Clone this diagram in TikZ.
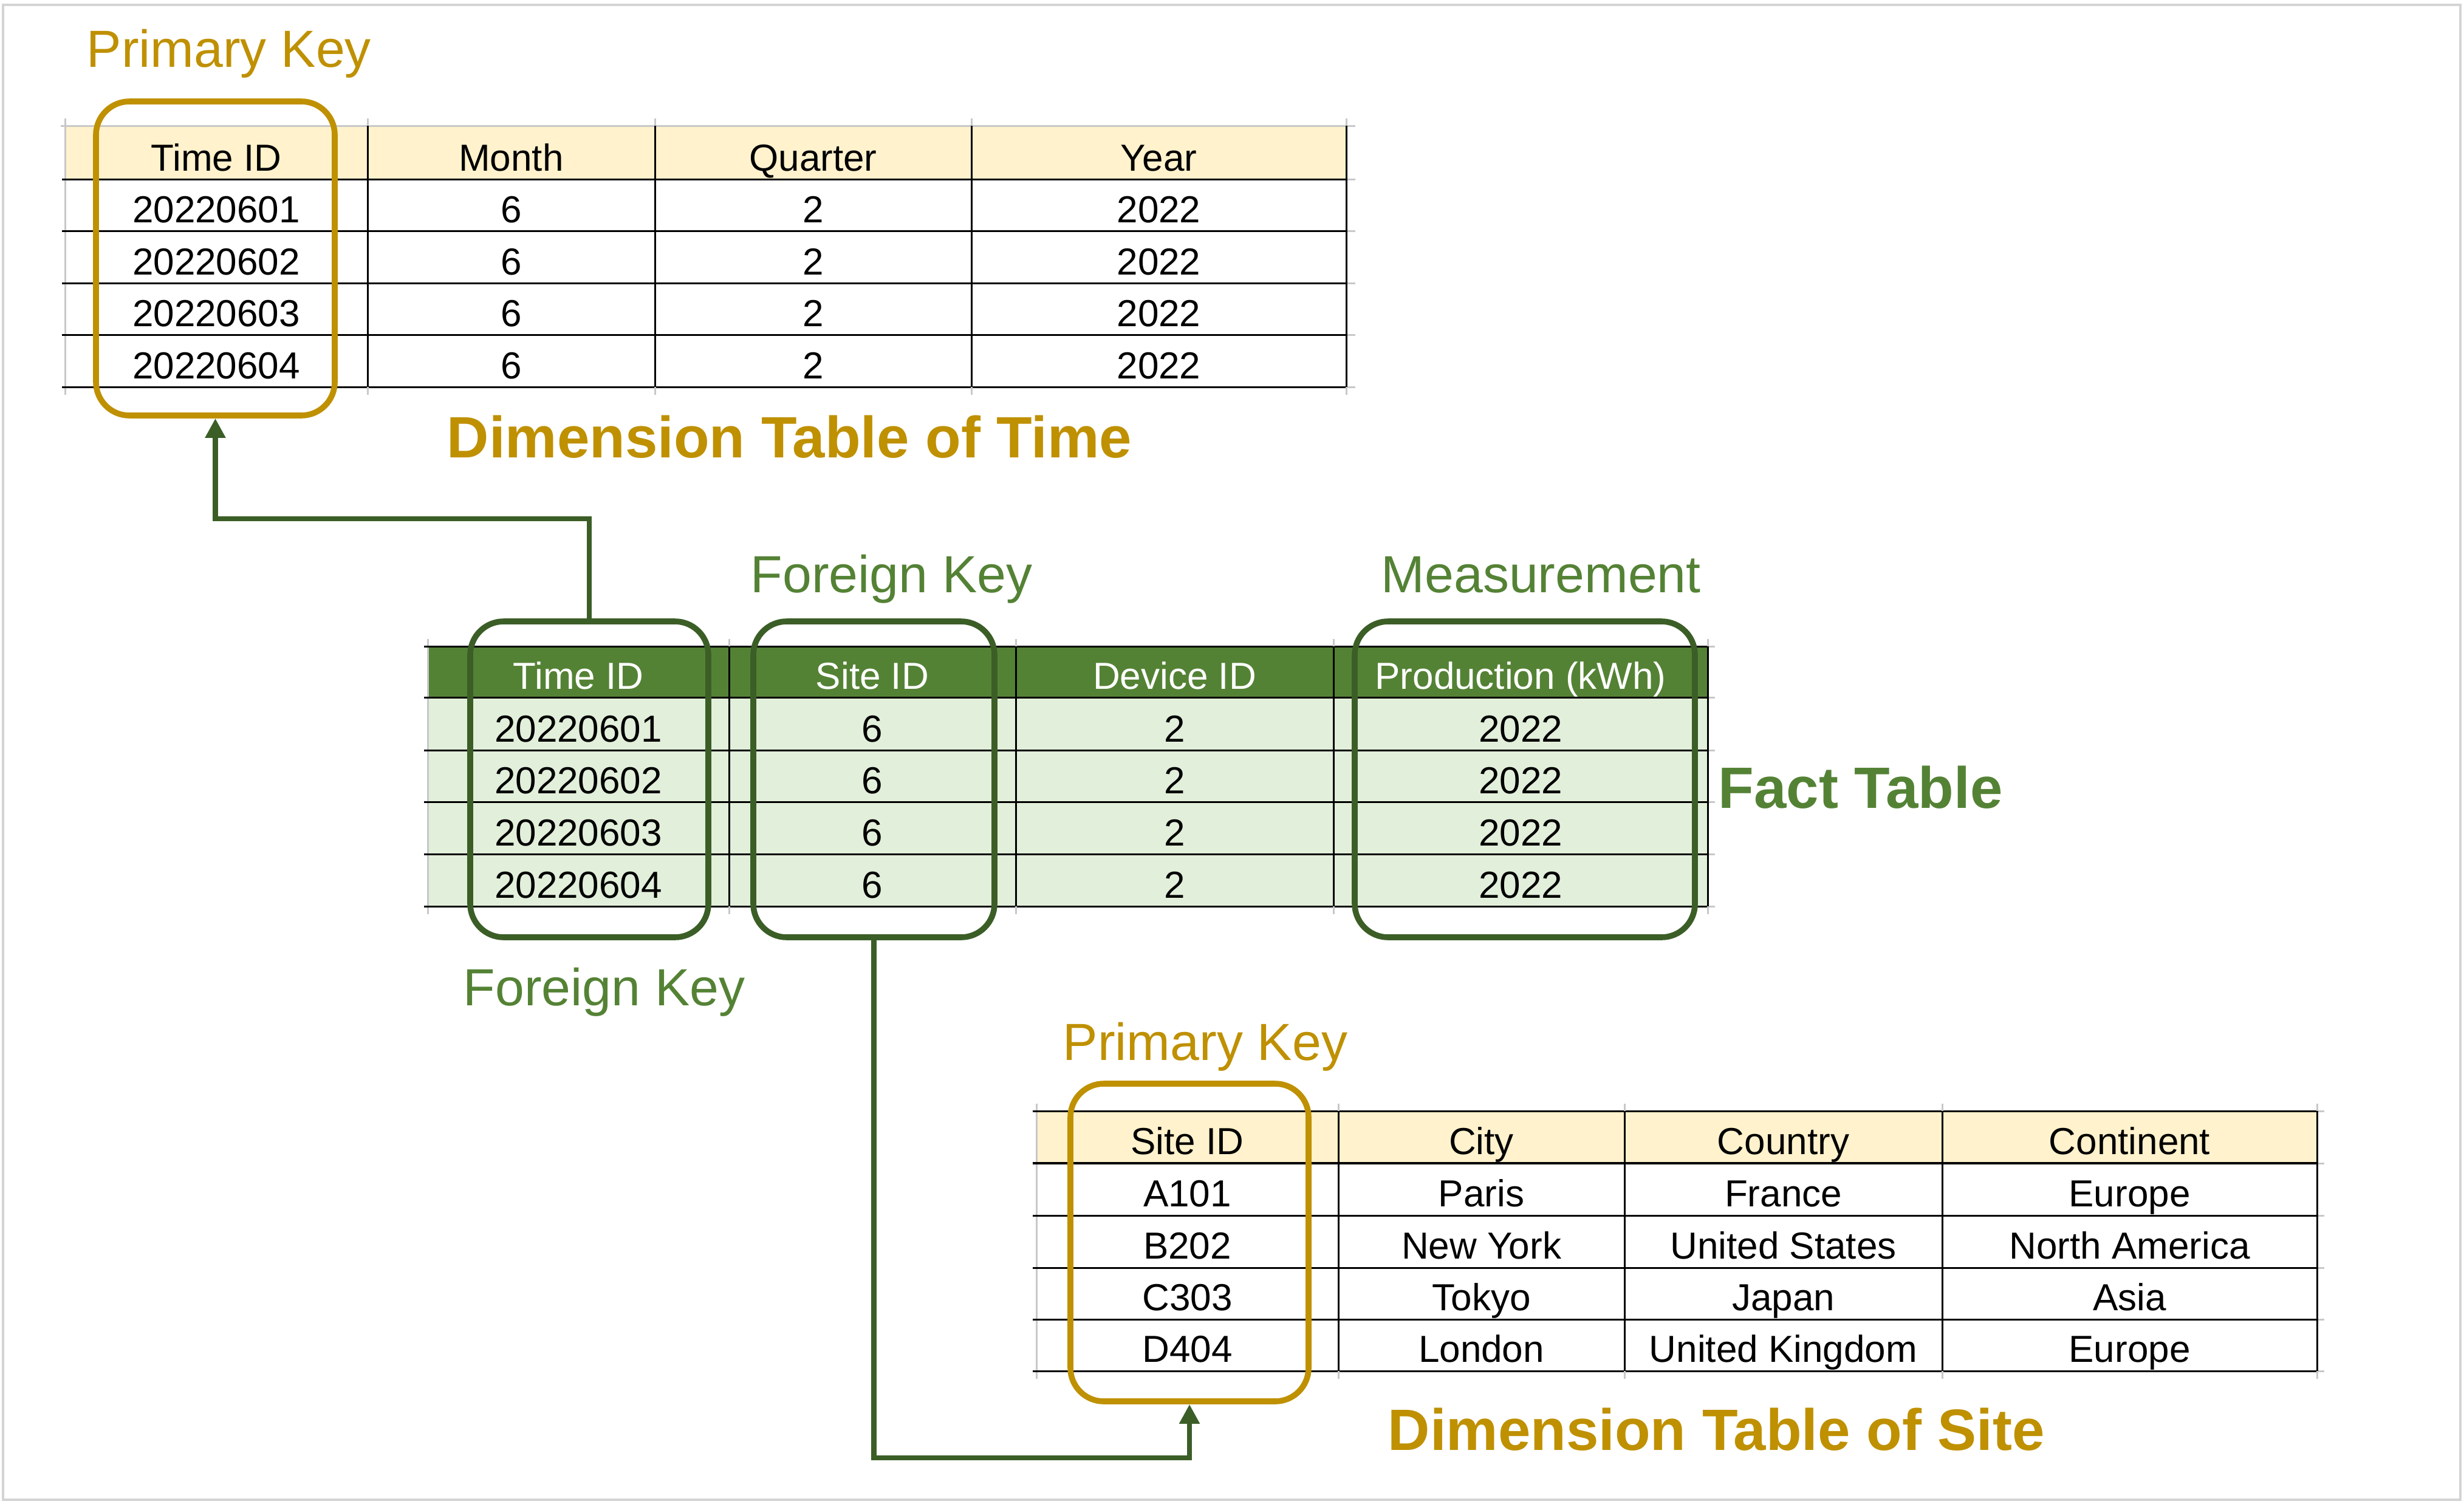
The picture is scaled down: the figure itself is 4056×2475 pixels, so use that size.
\documentclass[tikz,border=0pt]{standalone}
\usepackage{fontspec}
\setmainfont{Liberation Sans}
\usetikzlibrary{arrows.meta,fit}
\definecolor{gold}{HTML}{BF9000}
\definecolor{fgreen}{HTML}{548235}
\definecolor{dgreen}{HTML}{3B5E27}
\definecolor{lgreen}{HTML}{E2EFDA}
\definecolor{hyellow}{HTML}{FFF2CC}
\definecolor{gridgray}{HTML}{C8C8C8}
\definecolor{framegray}{HTML}{D4D4D4}
\begin{document}
\begin{tikzpicture}[x=0.25pt,y=-0.25pt,
 cell/.style={anchor=base,inner sep=0,font=\fontsize{15.5pt}{18pt}\selectfont},
 keylabel/.style={anchor=base west,inner sep=0,font=\fontsize{21.5pt}{26pt}\selectfont},
 bigtitle/.style={anchor=base west,inner sep=0,font=\fontsize{24pt}{28pt}\selectfont\bfseries},
 gline/.style={line width=0.75pt,black},
 glight/.style={line width=0.75pt,gridgray},
 keybox/.style={draw,line width=2.4pt,rounded corners=13.75pt,inner sep=0},
 conn/.style={draw=dgreen,line width=2.2pt,-{Triangle[length=8pt,width=8pt]}},
]
\useasboundingbox (0,0) rectangle (4056,2475);
\fill[white] (0,0) rectangle (4056,2475);
\draw[framegray,line width=1.2pt] (5,8) rectangle (4050,2469);

% ---------- Dimension table of time ----------
\fill[hyellow] (107,207) rectangle (2216,295);
\draw[glight] (107,195) -- (107,650);
\draw[glight] (100,207) -- (2231,207);
\foreach \y in {295,380,466,551,637} {\draw[gline] (102,\y) -- (2216,\y); \draw[glight] (2216,\y) -- (2231,\y);}
\foreach \x in {605,1078,1599,2216} {\draw[gline] (\x,207) -- (\x,637); \draw[glight] (\x,195) -- (\x,207); \draw[glight] (\x,637) -- (\x,650);}
\foreach \x/\t [count=\i] in {356/Time ID,841.5/Month,1338.5/Quarter,1907.5/Year}
  \node[cell] (th\i) at (\x,281) {\t};
\foreach \y/\id [count=\r] in {366/20220601,452/20220602,537/20220603,623/20220604} {
  \node[cell] (tr\r-a) at (356,\y) {\id};
  \node[cell] (tr\r-b) at (841.5,\y) {6};
  \node[cell] (tr\r-c) at (1338.5,\y) {2};
  \node[cell] (tr\r-d) at (1907.5,\y) {2022};
}

% ---------- Fact table ----------
\fill[fgreen] (704,1064) rectangle (2811,1148);
\fill[lgreen] (704,1148) rectangle (2811,1492);
\draw[glight] (704,1052) -- (704,1505);
\foreach \y in {1064,1148,1235,1320,1406,1492} {\draw[gline] (698,\y) -- (2811,\y); \draw[glight] (2811,\y) -- (2823,\y);}
\foreach \x in {1200,1672,2195,2811} {\draw[gline] (\x,1064) -- (\x,1492); \draw[glight] (\x,1052) -- (\x,1064); \draw[glight] (\x,1492) -- (\x,1505);}
\foreach \x/\t [count=\i] in {952/Time ID,1436/Site ID,1933.5/Device ID,2503/Production (kWh)}
  \node[cell,text=white] (fh\i) at (\x,1134) {\t};
\foreach \y/\id [count=\r] in {1221/20220601,1306/20220602,1392/20220603,1478/20220604} {
  \node[cell] (fr\r-a) at (952,\y) {\id};
  \node[cell] (fr\r-b) at (1436,\y) {6};
  \node[cell] (fr\r-c) at (1933.5,\y) {2};
  \node[cell] (fr\r-d) at (2503,\y) {2022};
}

% ---------- Dimension table of site ----------
\fill[hyellow] (1706,1829) rectangle (3814,1915);
\draw[glight] (1706,1817) -- (1706,2270);
\draw[gline] (1700,1829) -- (3814,1829);
\draw[line width=1.2pt] (1700,1915) -- (3814,1915);
\foreach \y in {2001,2087,2172,2257} {\draw[gline] (1700,\y) -- (3814,\y);}
\foreach \y in {1829,1915,2001,2087,2172,2257} {\draw[glight] (3814,\y) -- (3826,\y);}
\foreach \x in {2203,2674,3197,3814} {\draw[gline] (\x,1829) -- (\x,2257); \draw[glight] (\x,1817) -- (\x,1829); \draw[glight] (\x,2257) -- (\x,2270);}
\foreach \x/\t [count=\i] in {1954.5/Site ID,2438.5/City,2935.5/Country,3505.5/Continent}
  \node[cell] (sh\i) at (\x,1900) {\t};
\foreach \y/\a/\b/\c/\d [count=\r] in {1986/A101/Paris/France/Europe,2072/B202/New York/United States/North America,2157/C303/Tokyo/Japan/Asia,2242/D404/London/United Kingdom/Europe} {
  \node[cell] (sr\r-a) at (1954.5,\y) {\a};
  \node[cell] (sr\r-b) at (2438.5,\y) {\b};
  \node[cell] (sr\r-c) at (2935.5,\y) {\c};
  \node[cell] (sr\r-d) at (3505.5,\y) {\d};
}

% ---------- key boxes ----------
\node[keybox,draw=gold,fit={(158,167) (551,684)}] (pkTime) {};
\node[keybox,draw=dgreen,fit={(774,1023) (1166,1543)}] (fkTime) {};
\node[keybox,draw=dgreen,fit={(1240,1023) (1637,1543)}] (fkSite) {};
\node[keybox,draw=dgreen,fit={(2230,1023) (2790,1543)}] (meas) {};
\node[keybox,draw=gold,fit={(1762,1784) (2154,2307)}] (pkSite) {};

% ---------- connectors ----------
\coordinate (bendA) at (354.5,854);
\draw[conn] (fkTime.north) |- (bendA) -- (pkTime.south);
\coordinate (bendB) at (1958,2400);
\draw[conn] (fkSite.south) |- (bendB) -- (pkSite.south);

% ---------- labels ----------
\node[keylabel,text=gold] (pkTimeLbl) at (142,110) {Primary Key};
\node[keylabel,text=fgreen] (fkSiteLbl) at (1235,975) {Foreign Key};
\node[keylabel,text=fgreen] (measLbl) at (2273,975) {Measurement};
\node[keylabel,text=fgreen] (fkTimeLbl) at (762,1655) {Foreign Key};
\node[keylabel,text=gold] (pkSiteLbl) at (1749,1745) {Primary Key};
\node[bigtitle,text=gold] (timeTitle) at (735,753) {Dimension Table of Time};
\node[bigtitle,text=fgreen] (factTitle) at (2828,1330) {Fact Table};
\node[bigtitle,text=gold] (siteTitle) at (2284,2387) {Dimension Table of Site};
\end{tikzpicture}
\end{document}
